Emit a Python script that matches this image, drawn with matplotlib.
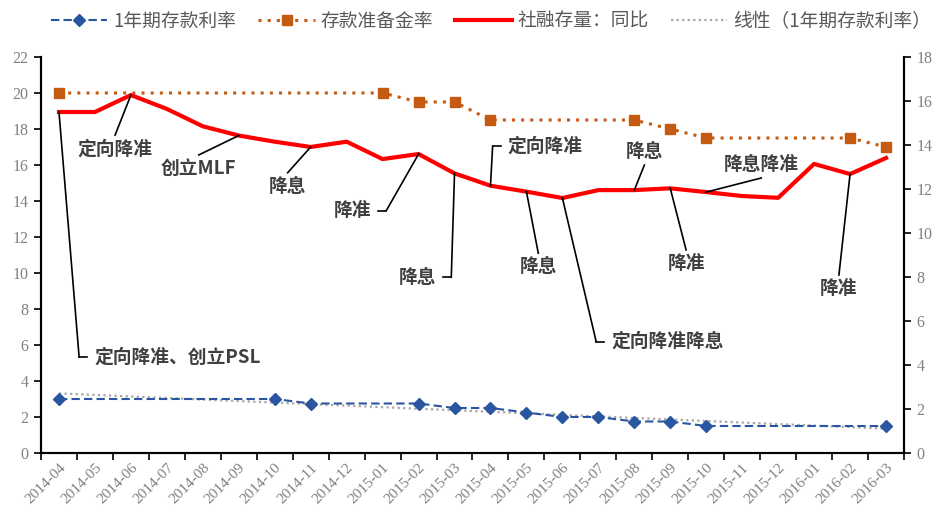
import numpy as np
import matplotlib
matplotlib.use('Agg')
import matplotlib.pyplot as plt
from matplotlib.lines import Line2D

# month categories
months = ['2014-04', '2014-05', '2014-06', '2014-07', '2014-08', '2014-09',
          '2014-10', '2014-11', '2014-12', '2015-01', '2015-02', '2015-03',
          '2015-04', '2015-05', '2015-06', '2015-07', '2015-08', '2015-09',
          '2015-10', '2015-11', '2015-12', '2016-01', '2016-02', '2016-03']

# 1年期存款利率 (left axis), only at change months
deposit_rate = [3.0, None, None, None, None, None,
                3.0, 2.75, None, None, 2.75, 2.5,
                2.5, 2.25, 2.0, 2.0, 1.75, 1.75,
                1.5, None, None, None, None, 1.5]

# 存款准备金率 (left axis)
rrr = [20.0, None, None, None, None, None,
       None, None, None, 20.0, 19.5, 19.5,
       18.5, None, None, None, 18.5, 18.0,
       17.5, None, None, None, 17.5, 17.0]

# 社融存量：同比 (right axis)
tsf_yoy = [15.5, 15.5, 16.27, 15.64, 14.85, 14.43,
           14.15, 13.91, 14.15, 13.36, 13.59, 12.71,
           12.15, 11.88, 11.59, 11.95, 11.95, 12.03,
           11.86, 11.68, 11.60, 13.14, 12.68, 13.41]

# callouts: (month index, label, leader end in (category, right-axis value), text side)
callouts = [
    (0, '定向降准、创立PSL', (0.56, 4.36), 'right'),
    (2, '定向降准', (1.56, 14.45), 'below'),
    (5, '创立MLF', (3.89, 13.55), 'below'),
    (7, '降息', (6.36, 12.74), 'below'),
    (10, '降准', (9.10, 11.01), 'left'),
    (11, '降息', (10.91, 7.99), 'left'),
    (12, '定向降准', (12.06, 13.95), 'right'),
    (13, '降息', (13.33, 9.08), 'below'),
    (14, '定向降准降息', (14.94, 5.06), 'right'),
    (16, '降息', (16.28, 13.09), 'above'),
    (17, '降准', (17.44, 9.23), 'below'),
    (18, '降息降准', (19.53, 12.50), 'above'),
    (22, '降准', (21.69, 8.09), 'below'),
]

cjk = ['Noto Sans CJK SC', 'DejaVu Sans']
serif = 'Liberation Serif'
tick_grey = '#808080'
blue = '#2a55a0'
orange = '#c55a11'
red = '#ff0000'
trend_grey = '#a6a6a6'

plt.rcParams['font.family'] = cjk

fig = plt.figure(figsize=(9.35, 5.08), dpi=100)
ax = fig.add_axes([41 / 935, 1 - 453 / 508, 863 / 935, 396 / 508])
ax2 = ax.twinx()

x = np.arange(len(months))

def valid(series):
    xs = [i for i, v in enumerate(series) if v is not None]
    ys = [v for v in series if v is not None]
    return np.array(xs), np.array(ys)

bx, by = valid(deposit_rate)
ox, oy = valid(rrr)

# linear trendline of the deposit rate
coef = np.polyfit(bx, by, 1)
trend = np.polyval(coef, x)

ax.plot(x, trend, linestyle=(0, (1, 1.5)), color=trend_grey, lw=1.6, zorder=2)
ax.plot(bx, by, linestyle=(0, (4, 2)), color=blue, lw=1.5, marker='D',
        markersize=6, zorder=3)
ax.plot(ox, oy, linestyle=(0, (1, 2)), color=orange, lw=2.2, marker='s',
        markersize=7, zorder=3)
ax2.plot(x, tsf_yoy, color=red, lw=3, zorder=3, solid_joinstyle='round')

ax.set_xlim(-0.5, len(months) - 0.5)
ax.set_ylim(0, 22)
ax2.set_ylim(0, 18)
ax.set_yticks(np.arange(0, 23, 2))
ax2.set_yticks(np.arange(0, 19, 2))

ax.set_xticks(np.arange(-0.5, len(months), 1))
ax.set_xticklabels([])
ax.set_xticks(x, minor=True)
ax.set_xticklabels(months, minor=True, rotation=45, ha='right', va='top',
                   rotation_mode='anchor', fontfamily=serif, fontsize=11,
                   color=tick_grey)
ax.tick_params(axis='x', which='minor', length=0, pad=6)
ax.tick_params(axis='x', which='major', length=5, width=1.2, direction='out')
ax.tick_params(axis='y', length=5, width=1.2, direction='out', pad=4)
ax2.tick_params(axis='y', length=5, width=1.2, direction='out', pad=4)
for a in (ax, ax2):
    for lab in a.get_yticklabels():
        lab.set_fontfamily(serif)
        lab.set_fontsize(11.5)
        lab.set_color(tick_grey)
    a.spines['top'].set_visible(False)
    for s in ('left', 'right', 'bottom'):
        a.spines[s].set_linewidth(1.5)
        a.spines[s].set_color('black')

# callout leaders and labels
txt_kw = dict(fontsize=13.5, fontweight='bold', color='#404040', family=cjk)
for i, label, end, side in callouts:
    p = (i, tsf_yoy[i])
    ax2.plot([p[0], end[0]], [p[1], end[1]], color='black', lw=1.2, zorder=4)
    if side in ('right', 'left'):
        sgn = 1 if side == 'right' else -1
        stub = end[0] + sgn * 0.22
        ax2.plot([end[0], stub], [end[1], end[1]], color='black', lw=1.2, zorder=4)
        ax2.annotate(label, xy=(stub, end[1]), xytext=(sgn * 5, 0),
                     textcoords='offset points', va='center',
                     ha='left' if sgn > 0 else 'right', **txt_kw)
    elif side == 'below':
        ax2.annotate(label, xy=end, xytext=(0, -3), textcoords='offset points',
                     ha='center', va='top', **txt_kw)
    else:
        ax2.annotate(label, xy=end, xytext=(0, 3), textcoords='offset points',
                     ha='center', va='bottom', **txt_kw)

handles = [
    Line2D([], [], linestyle=(0, (4, 2)), color=blue, lw=1.5, marker='D', markersize=6),
    Line2D([], [], linestyle=(0, (1, 2)), color=orange, lw=2.2, marker='s', markersize=7),
    Line2D([], [], color=red, lw=3),
    Line2D([], [], linestyle=(0, (1, 1.5)), color=trend_grey, lw=1.6),
]
labels = ['1年期存款利率', '存款准备金率', '社融存量：同比', '线性（1年期存款利率）']
fig.legend(handles, labels, loc='center', bbox_to_anchor=(0.525, 0.958), ncol=4,
           frameon=False, fontsize=13.5, handlelength=3.0, columnspacing=1.2,
           handletextpad=0.3, labelcolor='#595959')

fig.savefig('out.png', dpi=100)
